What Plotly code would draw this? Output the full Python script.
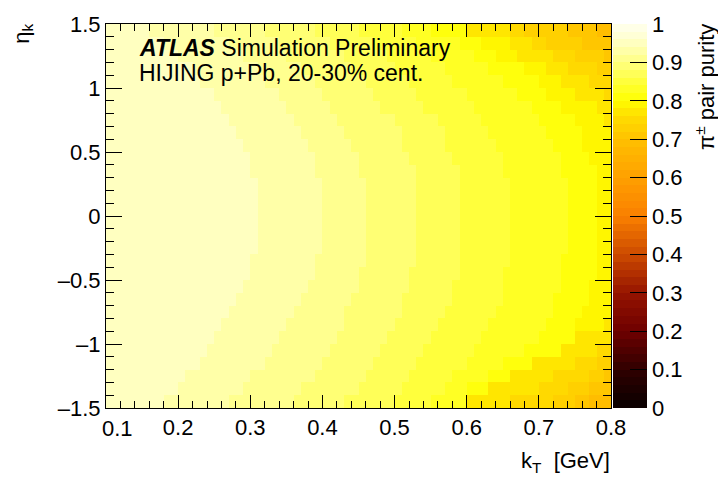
import numpy as np
import plotly.graph_objects as go

# kT binning (GeV) and eta_k binning of the purity map
kt_bin_width = 0.01
kt_centers = np.round(np.arange(0.105, 0.8, kt_bin_width), 3)
eta_centers = np.round(np.arange(-1.45, 1.5, 0.1), 2)

# For every eta_k row (from -1.45 upwards): (kT where a plateau starts, purity on it)
row_segments = [
    [(.10, .95), (.180, .93), (.270, .91), (.362, .89), (.435, .87), (.503, .85), (.550, .83), (.600, .77), (.664, .75), (.720, .73), (.746, .71), (.774, .69)],
    [(.10, .95), (.197, .93), (.287, .91), (.375, .89), (.448, .87), (.513, .85), (.570, .83), (.600, .81), (.633, .77), (.700, .75), (.745, .73), (.770, .71)],
    [(.10, .95), (.213, .93), (.303, .91), (.388, .89), (.461, .87), (.524, .85), (.585, .83), (.630, .81), (.665, .77), (.725, .75), (.770, .73), (.790, .71)],
    [(.10, .95), (.228, .93), (.318, .91), (.399, .89), (.472, .87), (.535, .85), (.600, .83), (.650, .81), (.692, .77), (.750, .75), (.785, .73)],
    [(.10, .95), (.242, .93), (.332, .91), (.410, .89), (.483, .87), (.545, .85), (.615, .83), (.680, .81), (.727, .77), (.780, .75)],
    [(.10, .95), (.254, .93), (.344, .91), (.419, .89), (.492, .87), (.554, .85), (.625, .83), (.700, .81), (.755, .77)],
    [(.10, .95), (.265, .93), (.355, .91), (.428, .89), (.501, .87), (.562, .85), (.635, .83), (.713, .81), (.752, .79), (.790, .77)],
    [(.10, .95), (.275, .93), (.365, .91), (.435, .89), (.508, .87), (.570, .85), (.644, .83), (.719, .81), (.760, .79)],
    [(.10, .95), (.284, .93), (.374, .91), (.442, .89), (.515, .87), (.576, .85), (.648, .83), (.724, .81), (.766, .79)],
    [(.10, .95), (.291, .93), (.381, .91), (.448, .89), (.521, .87), (.581, .85), (.651, .83), (.729, .81), (.771, .79)],
    [(.10, .95), (.297, .93), (.387, .91), (.452, .89), (.525, .87), (.586, .85), (.654, .83), (.732, .81), (.776, .79)],
    [(.10, .95), (.302, .93), (.392, .91), (.456, .89), (.529, .87), (.589, .85), (.656, .83), (.735, .81), (.779, .79)],
    [(.10, .95), (.306, .93), (.396, .91), (.459, .89), (.532, .87), (.592, .85), (.658, .83), (.738, .81), (.782, .79)],
    [(.10, .95), (.309, .93), (.399, .91), (.461, .89), (.534, .87), (.594, .85), (.659, .83), (.739, .81), (.784, .79)],
    [(.10, .95), (.310, .93), (.400, .91), (.462, .89), (.535, .87), (.595, .85), (.660, .83), (.740, .81), (.785, .79)],
    [(.10, .95), (.310, .93), (.400, .91), (.462, .89), (.535, .87), (.595, .85), (.660, .83), (.740, .81), (.785, .79)],
    [(.10, .95), (.308, .93), (.398, .91), (.460, .89), (.533, .87), (.593, .85), (.658, .83), (.738, .81), (.783, .79)],
    [(.10, .95), (.306, .93), (.396, .91), (.458, .89), (.531, .87), (.591, .85), (.656, .83), (.736, .81), (.781, .79)],
    [(.10, .95), (.302, .93), (.392, .91), (.454, .89), (.527, .87), (.587, .85), (.652, .83), (.732, .81), (.777, .79)],
    [(.10, .95), (.296, .93), (.386, .91), (.448, .89), (.521, .87), (.581, .85), (.646, .83), (.726, .81), (.771, .79)],
    [(.10, .95), (.289, .93), (.379, .91), (.441, .89), (.514, .87), (.574, .85), (.639, .83), (.719, .81), (.764, .79)],
    [(.10, .95), (.281, .93), (.371, .91), (.433, .89), (.506, .87), (.566, .85), (.631, .83), (.711, .81), (.756, .79)],
    [(.10, .95), (.271, .93), (.361, .91), (.423, .89), (.496, .87), (.556, .85), (.621, .83), (.701, .81), (.746, .79), (.795, .77)],
    [(.10, .95), (.260, .93), (.350, .91), (.412, .89), (.485, .87), (.545, .85), (.610, .83), (.690, .81), (.735, .79), (.780, .77)],
    [(.10, .95), (.248, .93), (.338, .91), (.400, .89), (.473, .87), (.533, .85), (.598, .83), (.668, .81), (.713, .79), (.748, .77), (.790, .75)],
    [(.10, .95), (.234, .93), (.324, .91), (.386, .89), (.459, .87), (.519, .85), (.584, .83), (.655, .81), (.700, .79), (.730, .77), (.770, .75)],
    [(.10, .95), (.219, .93), (.309, .91), (.371, .89), (.444, .87), (.504, .85), (.569, .83), (.635, .81), (.680, .79), (.710, .77), (.745, .75), (.780, .73)],
    [(.10, .95), (.202, .93), (.292, .91), (.354, .89), (.427, .87), (.487, .85), (.552, .83), (.610, .81), (.640, .79), (.667, .77), (.720, .75), (.755, .73), (.790, .71)],
    [(.10, .95), (.184, .93), (.274, .91), (.336, .89), (.409, .87), (.469, .85), (.534, .83), (.590, .81), (.625, .79), (.657, .77), (.690, .75), (.710, .73), (.760, .71)],
    [(.10, .95), (.165, .93), (.255, .91), (.317, .89), (.390, .87), (.450, .85), (.515, .83), (.555, .81), (.600, .77), (.657, .75), (.684, .73), (.740, .71), (.780, .69)],
]

x_tick_values = [0.1, 0.2, 0.3, 0.4, 0.5, 0.6, 0.7, 0.8]
x_tick_labels = ["", "0.2", "0.3", "0.4", "0.5", "0.6", "0.7", "0.8"]
y_tick_values = [-1.5, -1.0, -0.5, 0.0, 0.5, 1.0, 1.5]
y_tick_labels = ["\u20131.5", "\u20131", "\u20130.5", "0", "0.5", "1", "1.5"]
z_tick_values = [0, 0.1, 0.2, 0.3, 0.4, 0.5, 0.6, 0.7, 0.8, 0.9, 1.0]
z_tick_labels = ["0", "0.1", "0.2", "0.3", "0.4", "0.5", "0.6", "0.7", "0.8", "0.9", "1"]


def row_values(segments):
    vals = []
    for k in kt_centers:
        v = segments[0][1]
        for start, p in segments:
            if k >= start:
                v = p
        vals.append(v)
    return vals


purity = np.array([row_values(seg) for seg in row_segments])

# Palette anchors (value, rgb) and a 50-band stepped colour scale
anchors = [
    (0.00, (8, 0, 0)), (0.10, (48, 0, 0)), (0.20, (110, 0, 0)), (0.30, (150, 20, 0)),
    (0.40, (205, 75, 0)), (0.50, (250, 128, 0)), (0.60, (255, 160, 0)),
    (0.70, (255, 192, 0)), (0.72, (255, 203, 0)), (0.76, (255, 222, 0)),
    (0.78, (255, 238, 0)), (0.80, (255, 255, 0)),
    (0.85, (255, 255, 60)), (0.90, (255, 255, 130)), (0.96, (255, 255, 205)),
    (1.00, (255, 255, 240)),
]


def palette(v):
    for (v0, c0), (v1, c1) in zip(anchors[:-1], anchors[1:]):
        if v0 <= v <= v1:
            t = (v - v0) / (v1 - v0)
            return "rgb(%d,%d,%d)" % tuple(round(a + (b - a) * t) for a, b in zip(c0, c1))
    return "rgb(%d,%d,%d)" % anchors[-1][1]


n_bands = 50
colorscale = []
for i in range(n_bands):
    col = palette((i + 0.5) / n_bands)
    colorscale.append([i / n_bands, col])
    colorscale.append([(i + 1) / n_bands, col])

FONT = "Liberation Sans, Arial, Helvetica, sans-serif"
FS = 22

fig = go.Figure(go.Heatmap(
    x=kt_centers, y=eta_centers, z=purity,
    zmin=0, zmax=1, colorscale=colorscale, hoverongaps=False,
    colorbar=dict(
        x=1.004, xanchor="left", y=0.5, yanchor="middle", len=1, lenmode="fraction",
        thickness=34, thicknessmode="pixels", xpad=0, ypad=0, outlinewidth=0,
        ticks="inside", ticklen=17, tickwidth=1, tickcolor="black",
        tickvals=z_tick_values, ticktext=z_tick_labels,
        tickfont=dict(family=FONT, size=FS, color="black"),
    ),
))

fig.update_layout(
    width=718, height=480,
    margin=dict(l=106, r=107, t=15, b=72),
    paper_bgcolor="white", plot_bgcolor="white",
    font=dict(family=FONT, size=FS, color="black"),
    xaxis=dict(
        range=[0.1, 0.8], tickvals=x_tick_values, ticktext=x_tick_labels,
        ticks="inside", ticklen=13, tickwidth=1, tickcolor="black",
        minor=dict(dtick=0.02, tick0=0.1, ticks="inside", ticklen=7, tickcolor="black"),
        mirror="allticks", showline=True, linecolor="black", linewidth=1,
        showgrid=False, zeroline=False, layer="above traces",
        tickfont=dict(size=FS),
    ),
    yaxis=dict(
        range=[-1.5, 1.5], tickvals=y_tick_values, ticktext=y_tick_labels,
        ticks="inside", ticklen=16, tickwidth=1, tickcolor="black",
        minor=dict(dtick=0.1, tick0=0, ticks="inside", ticklen=8, tickcolor="black"),
        mirror="allticks", showline=True, linecolor="black", linewidth=1,
        showgrid=False, zeroline=False, layer="above traces",
        tickfont=dict(size=FS),
    ),
    annotations=[
        dict(text="<b><i>ATLAS</i></b> Simulation Preliminary", x=0.0614, y=0.937,
             xref="paper", yref="paper", xanchor="left", yanchor="middle",
             showarrow=False, font=dict(size=23)),
        dict(text="HIJING p+Pb, 20-30% cent.", x=0.0614, y=0.873,
             xref="paper", yref="paper", xanchor="left", yanchor="middle",
             showarrow=False, font=dict(size=23)),
        dict(text="0.1", x=0.1, xshift=11, y=0, yshift=-6,
             xref="x", yref="paper", xanchor="center", yanchor="top",
             showarrow=False, font=dict(size=FS)),
        dict(text="k<sub>T</sub>\u00a0\u00a0[GeV]", x=1.002, y=-0.1,
             xref="paper", yref="paper", xanchor="right", yanchor="top",
             showarrow=False, font=dict(size=FS)),
        dict(text="\u03b7<sub>k</sub>", textangle=-90, x=-0.165, y=1.005,
             xref="paper", yref="paper", xanchor="center", yanchor="top",
             showarrow=False, font=dict(size=FS)),
        dict(text="\u03c0<sup>\u00b1</sup> pair purity", textangle=-90, x=1.186, y=1.005,
             xref="paper", yref="paper", xanchor="center", yanchor="top",
             showarrow=False, font=dict(size=FS)),
    ],
)

fig.write_html("out.html")
